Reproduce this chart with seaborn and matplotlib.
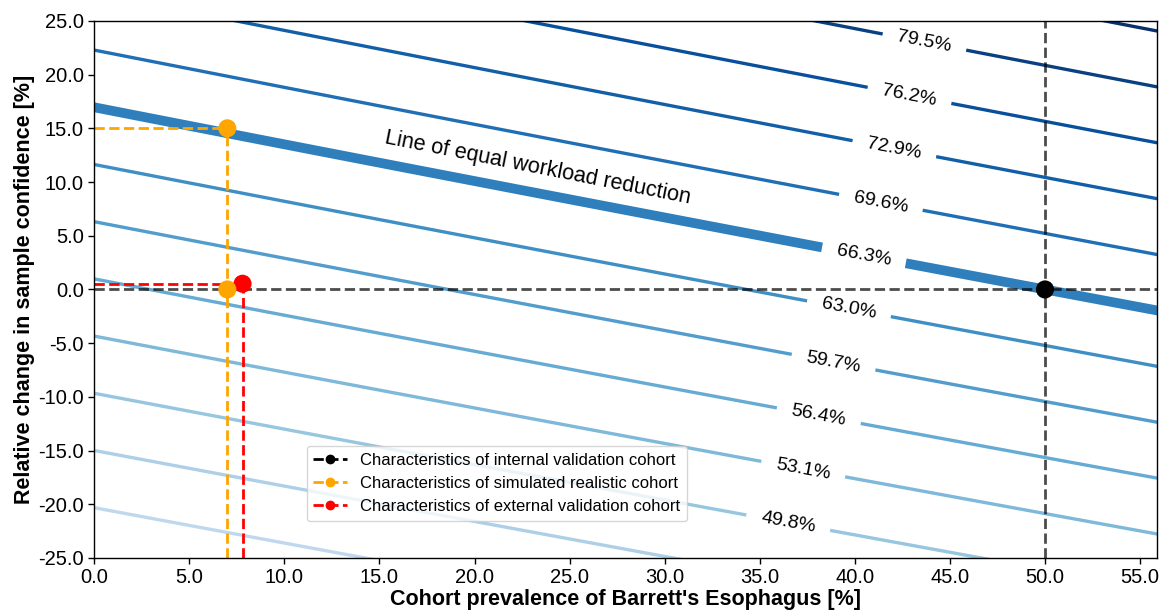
import numpy as np
import matplotlib
matplotlib.use("Agg")
import matplotlib.pyplot as plt
from matplotlib.lines import Line2D
import seaborn as sns

# ---- data ----
# workload-reduction surface (approximated as bilinear in prevalence / confidence)
surf_intercept = 55.79      # value at prevalence 0, confidence 0
surf_prev_coef = 0.2102     # per % prevalence
surf_conf_coef = 0.6197     # per % confidence change
surf_cross_coef = 0.00026   # prevalence x confidence interaction

contour_levels = [43.2, 46.5, 49.8, 53.1, 56.4, 59.7, 63.0, 66.3, 69.6, 72.9, 76.2, 79.5, 82.8]
equal_level = 66.3
# one label spot per labelled level (49.8 ... 79.5)
label_spots = [(36.5, -21.7), (37.3, -16.6), (38.1, -11.8), (38.9, -6.6), (39.7, -1.7),
               (40.5, 3.4), (41.4, 8.4), (42.1, 13.3), (42.9, 18.3), (43.7, 23.4)]

cohort_names = ["Characteristics of internal validation cohort",
                "Characteristics of simulated realistic cohort",
                "Characteristics of external validation cohort"]
cohort_prev = [50.0, 7.0, 7.8]
cohort_conf = [0.0, 15.0, 0.53]
cohort_colors = ["black", "orange", "red"]

x_lim = (0.0, 55.9)
y_lim = (-25.0, 25.0)

# ---- plotting ----
sns.set_theme(style="ticks")
plt.rcParams['font.family'] = ['Liberation Sans', 'DejaVu Sans']
plt.rcParams['text.color'] = 'black'
plt.rcParams['axes.labelcolor'] = 'black'

fig, ax = plt.subplots(figsize=(11.63, 6.15), dpi=100)
fig.subplots_adjust(left=0.081, right=0.995, top=0.966, bottom=0.0927)

px = np.linspace(-2, 58, 400)
py = np.linspace(-27, 27, 400)
X, Y = np.meshgrid(px, py)
Z = surf_intercept + surf_prev_coef * X + surf_conf_coef * Y + surf_cross_coef * X * Y

widths = [7.0 if abs(l - equal_level) < 1e-6 else 2.4 for l in contour_levels]
cs = ax.contour(X, Y, Z, levels=contour_levels, cmap="Blues", vmin=28.5, vmax=82.8,
                linewidths=widths, zorder=1)
ax.clabel(cs, manual=label_spots, inline=True, inline_spacing=12,
          fontsize=14, colors="black", fmt=lambda v: f"{v:.1f}%")

ax.text(23.3, 11.35, "Line of equal workload reduction", fontsize=15.6, rotation=-11.2,
        ha="center", va="center", rotation_mode="anchor", color="black")

# reference lines for internal cohort
ax.axvline(cohort_prev[0], color="black", alpha=0.7, ls="--", lw=2, zorder=2)
ax.axhline(cohort_conf[0], color="black", alpha=0.7, ls="--", lw=2, zorder=2)
# simulated and external cohorts: dashed guides to the axes
for xv, yv, c in zip(cohort_prev[1:], cohort_conf[1:], cohort_colors[1:]):
    ax.plot([x_lim[0], xv], [yv, yv], color=c, ls="--", lw=2, zorder=2)
    ax.plot([xv, xv], [y_lim[0], yv], color=c, ls="--", lw=2, zorder=2)

sns.scatterplot(x=cohort_prev + [cohort_prev[1]], y=cohort_conf + [0.0],
                hue=cohort_names + [cohort_names[1]],
                palette=dict(zip(cohort_names, cohort_colors)),
                s=170, edgecolor="none", legend=False, ax=ax, zorder=3)

handles = [Line2D([0], [0], color=c, ls="--", lw=2, marker="o", markersize=6)
           for c in cohort_colors]
ax.legend(handles, cohort_names, loc="lower left", bbox_to_anchor=(0.2, 0.069),
          borderaxespad=0, fontsize=12, handlelength=2.0, framealpha=0.8)

ax.set_xlim(*x_lim)
ax.set_ylim(*y_lim)
ax.set_xticks(np.arange(0, 56, 5))
ax.set_yticks(np.arange(-25, 26, 5))
ax.xaxis.set_major_formatter(matplotlib.ticker.FormatStrFormatter("%.1f"))
ax.yaxis.set_major_formatter(matplotlib.ticker.FormatStrFormatter("%.1f"))
ax.tick_params(labelsize=14.5, colors="black", width=1, length=4)
for sp in ax.spines.values():
    sp.set_color("black")
    sp.set_linewidth(1)
ax.set_xlabel("Cohort prevalence of Barrett's Esophagus [%]", fontsize=15.5, fontweight="bold", labelpad=1)
ax.set_ylabel("Relative change in sample confidence [%]", fontsize=15.5, fontweight="bold", labelpad=2)

fig.savefig("out.png", dpi=100)
